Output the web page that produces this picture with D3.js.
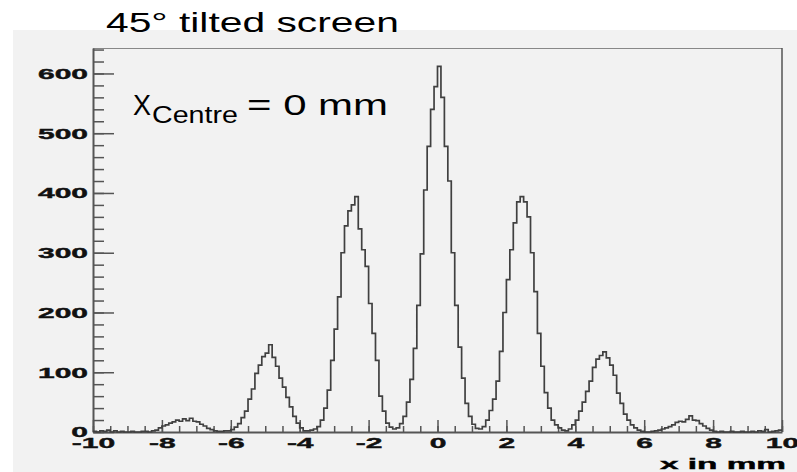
<!DOCTYPE html>
<html>
<head>
<meta charset="utf-8">
<script src="https://cdn.jsdelivr.net/npm/d3@7"></script>
<style>
  html, body { margin: 0; padding: 0; background: #ffffff; }
  svg { display: block; }
</style>
</head>
<body>
<svg id="chart" width="797" height="472"></svg>
<script>
// Histogram of x positions: 200 bins of 0.1 mm from -10 mm to +10 mm
const binLow = -10;
const binWidth = 0.1;
const counts = [
  1, 0, 2, 1, 3, 0, 2, 0, 1, 0,
  0, 1, 0, 0, 1, 1, 0, 2, 3, 7,
  10, 12, 15, 17, 20, 18, 22, 19, 23, 18,
  17, 13, 10, 6, 4, 2, 1, 1, 2, 2,
  4, 8, 14, 24, 35, 55, 72, 98, 112, 126,
  132, 146, 125, 110, 90, 75, 58, 42, 26, 15,
  7, 2, 2, 3, 5, 9, 20, 40, 70, 120,
  172, 226, 300, 345, 370, 380, 394, 340, 305, 277,
  215, 165, 120, 60, 35, 15, 8, 5, 7, 14,
  26, 50, 88, 140, 212, 298, 405, 478, 540, 578,
  612, 560, 478, 420, 300, 212, 142, 90, 48, 26,
  13, 6, 5, 9, 20, 36, 55, 85, 135, 200,
  255, 305, 350, 385, 394, 385, 360, 300, 235, 165,
  110, 66, 40, 20, 12, 7, 3, 2, 5, 12,
  20, 35, 50, 68, 85, 108, 122, 128, 134, 124,
  112, 95, 65, 48, 30, 20, 12, 7, 3, 1,
  0, 0, 1, 2, 3, 5, 7, 9, 12, 16,
  18, 17, 21, 27, 20, 19, 14, 10, 6, 3,
  1, 0, 1, 0, 0, 1, 0, 0, 1, 0,
  0, 1, 0, 2, 1, 4, 0, 1, 2, 3
];

const xMajorTicks = [-10, -8, -6, -4, -2, 0, 2, 4, 6, 8, 10];
const xTickLabels = ["-10", "-8", "-6", "-4", "-2", "0", "2", "4", "6", "8", "10"];
const yMajorTicks = [0, 100, 200, 300, 400, 500, 600];
const yTickLabels = ["0", "100", "200", "300", "400", "500", "600"];
const titleText = "45° tilted screen";
const xAxisTitle = "x in mm";
const noteMain = "X";
const noteSub = "Centre";
const noteRest = "= 0 mm";

const W = 797, H = 472;
const frame = { left: 93, right: 782, top: 48, bottom: 432 };
const sans = "'Liberation Sans', Arial, Helvetica, sans-serif";
const axisColor = "#555555";

const svg = d3.select("#chart");

// canvas background
svg.append("rect").attr("x", 0).attr("y", 0).attr("width", W).attr("height", H).attr("fill", "#ffffff");
svg.append("rect").attr("x", 13).attr("y", 30).attr("width", W - 13).attr("height", H - 30).attr("fill", "#f2f2f2");

const xMin = binLow, xMax = binLow + counts.length * binWidth;
const x = d3.scaleLinear().domain([xMin, xMax]).range([frame.left, frame.right]);
const y = d3.scaleLinear().domain([0, d3.max(counts) * 1.05]).range([frame.bottom, frame.top]);

// frame top and right edges
svg.append("line").attr("x1", frame.left).attr("x2", frame.right).attr("y1", frame.top + 0.5).attr("y2", frame.top + 0.5)
  .attr("stroke", "#888").attr("stroke-width", 1);
svg.append("line").attr("x1", frame.right).attr("x2", frame.right).attr("y1", frame.top).attr("y2", frame.bottom)
  .attr("stroke", axisColor).attr("stroke-width", 1.5);

// minor ticks
const xMinor = d3.range(xMin, xMax + 1e-9, 0.5).map(v => +v.toFixed(2));
const yMinor = d3.range(0, y.domain()[1], 20);

svg.append("g").attr("transform", `translate(0,${frame.bottom})`)
  .call(d3.axisBottom(x).tickValues(xMinor).tickSize(-6).tickSizeOuter(0).tickFormat(""))
  .call(g => g.select(".domain").remove());
svg.append("g").attr("transform", `translate(${frame.left},0)`)
  .call(d3.axisLeft(y).tickValues(yMinor).tickSize(-11).tickSizeOuter(0).tickFormat(""))
  .call(g => g.select(".domain").remove());

// major ticks + labels
const labelScale = 2.0;
const gx = svg.append("g").attr("transform", `translate(0,${frame.bottom})`)
  .call(d3.axisBottom(x).tickValues(xMajorTicks).tickSize(-12).tickSizeOuter(0).tickPadding(5)
    .tickFormat((d, i) => xTickLabels[i]));
const gy = svg.append("g").attr("transform", `translate(${frame.left},0)`)
  .call(d3.axisLeft(y).tickValues(yMajorTicks).tickSize(-21).tickSizeOuter(0).tickPadding(5)
    .tickFormat((d, i) => yTickLabels[i]));

svg.selectAll(".tick line").attr("stroke", axisColor).attr("stroke-width", 1.5);
svg.selectAll(".domain").attr("stroke", axisColor).attr("stroke-width", 2);

gx.selectAll(".tick text")
  .attr("font-weight", "bold").attr("font-size", 15).attr("fill", "#111")
  .attr("stroke", "#111").attr("stroke-width", 0.4)
  .attr("transform", `scale(${labelScale},1)`);
gy.selectAll(".tick text")
  .attr("font-weight", "bold").attr("font-size", 15).attr("fill", "#111")
  .attr("stroke", "#111").attr("stroke-width", 0.4)
  .attr("x", -5 / labelScale)
  .attr("transform", `scale(${labelScale},1)`);
svg.selectAll(".tick text").attr("font-family", sans);

// histogram outline (step line)
const steps = [];
counts.forEach((c, i) => {
  const a = binLow + i * binWidth;
  steps.push([a, c], [a + binWidth, c]);
});
svg.append("path")
  .attr("d", d3.line().x(d => x(d[0])).y(d => y(d[1]))(steps))
  .attr("fill", "none").attr("stroke", "#404040").attr("stroke-width", 1.7)
  .attr("stroke-linejoin", "miter");

// text stretched horizontally to a given width
function fitText(str, x0, baseline, width, size, weight) {
  const t = svg.append("text")
    .attr("font-family", sans).attr("font-size", size).attr("font-weight", weight)
    .attr("fill", "#000").text(str);
  const w = t.node().getComputedTextLength();
  t.attr("transform", `translate(${x0},${baseline}) scale(${width / w},1)`);
  return t;
}

fitText(titleText, 106, 32, 293, 28, "normal");
fitText(xAxisTitle, 660, 469, 126, 15, "bold").attr("stroke", "#000").attr("stroke-width", 0.4);

// annotation X_Centre = 0 mm
fitText(noteMain, 133, 115, 18, 29, "normal");
fitText(noteSub, 152, 123, 86, 24, "normal");
fitText(noteRest, 247, 115, 141, 29, "normal");
</script>
</body>
</html>
